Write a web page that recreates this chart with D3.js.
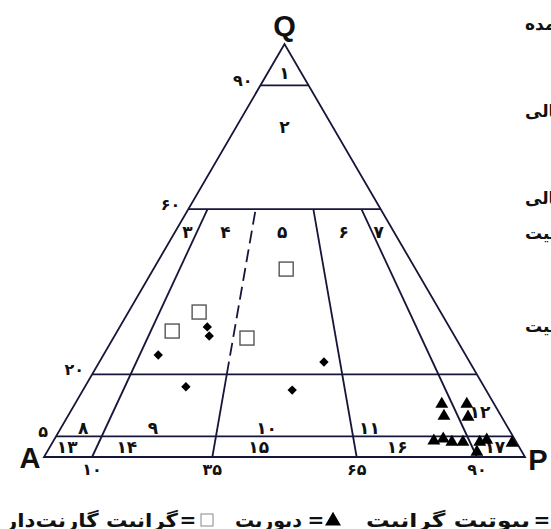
<!DOCTYPE html>
<html>
<head>
<meta charset="utf-8">
<script src="https://cdn.jsdelivr.net/npm/d3@7.9.0/dist/d3.min.js"></script>
<style>
  html, body { margin: 0; padding: 0; background: #fff; }
  svg { display: block; }
  text { font-family: "DejaVu Sans", "Liberation Sans", sans-serif; font-weight: bold; fill: #111; }
</style>
</head>
<body>
<div id="chart"></div>
<script>
// QAP ternary: values in percent [Q, A, P]
const qLevels = [90, 60, 20, 5];
const qTickLabels = ['۹۰', '۶۰', '۲۰', '۵'];
const ratioLevels = [10, 35, 65, 90];          // P/(A+P) %
const ratioTickLabels = ['۱۰', '۳۵', '۶۵', '۹۰'];

// field numbers: [label, Q %, P/(A+P) %]
const fieldLabels = [
  ['۱', 93, 50], ['۲', 80, 50],
  ['۳', 54.5, 5.6], ['۴', 54.5, 23], ['۵', 54.5, 49], ['۶', 54.5, 77], ['۷', 54.5, 93],
  ['۸', 7, 5], ['۹', 7, 20.6], ['۱۰', 7, 46], ['۱۱', 7, 69], ['۱۲', 10.9, 95.6],
  ['۱۳', 2.4, 3.7], ['۱۴', 2.4, 16.4], ['۱۵', 2.4, 44.5], ['۱۶', 2.4, 74], ['۱۷', 2.4, 94.8]
];

// samples [Q, A, P]
const garnetGranite = [[45.5, 26.9, 27.6], [35.1, 50.2, 14.7], [30.5, 58.1, 11.4], [28.8, 43.4, 27.8]];
const biotiteGranite = [[31.5, 50.3, 18.2], [29.3, 51.0, 19.7], [24.7, 63.9, 11.4],
  [23.0, 30.3, 46.7], [17.0, 62.0, 21.0], [16.2, 40.3, 43.5]];
const diorite = [[12.8, 10.9, 76.3], [9.9, 11.9, 78.2], [12.8, 5.7, 81.5], [9.7, 7.0, 83.3],
  [3.9, 17.0, 79.1], [4.4, 14.8, 80.8], [3.6, 13.4, 83.0], [3.6, 11.1, 85.3],
  [3.6, 7.6, 88.8], [4.1, 5.9, 90.0], [3.4, 1.0, 95.6], [1.2, 9.4, 89.4]];

const sideNotes = ['نام محدوده‌های عمده', '۳ = گرانیت فلدسپار آلکالی',
  '۶ = سینیت کوارتزدار فلدسپار آلکالی', '۴ = سینوگرانیت، ۵ = مونزوگرانیت', '۷ = تونالیت'];
const legendNames = ['بیوتیت گرانیت', 'دیوریت', 'گرانیت گارنت‌دار'];

const width = 551, height = 529;
const x = d3.scaleLinear().domain([0, 1]).range([44, 525]);
const y = d3.scaleLinear().domain([0, 1]).range([457, 44]);

// barycentric -> screen
function proj(q, a, p) {
  const s = q + a + p;
  q /= s; p /= s;
  return [x(p + q / 2), y(q)];
}
// Q level + P/(A+P) ratio -> screen
function projR(q, r) {
  q /= 100; r /= 100;
  return proj(q, (1 - q) * (1 - r), (1 - q) * r);
}

const svg = d3.select('#chart').append('svg')
  .attr('width', width).attr('height', height);

const lineColor = '#16163a';
const line = d3.line();

const g = svg.append('g')
  .attr('fill', 'none')
  .attr('stroke', lineColor)
  .attr('stroke-width', 1.8);

// outline
g.append('path').attr('d', line([proj(0, 1, 0), proj(0, 0, 1), proj(1, 0, 0)]) + 'Z');

// horizontal Q levels
qLevels.forEach(q => {
  g.append('path').attr('d', line([projR(q, 0), projR(q, 100)]));
});

// radial ratio lines between Q=0 and Q=60
ratioLevels.forEach(r => {
  if (r === 35) {
    g.append('path').attr('d', line([projR(0, r), projR(20, r)]));
    g.append('path').attr('d', line([projR(20, r), projR(60, r)]))
      .attr('stroke-dasharray', '13,6');
  } else {
    g.append('path').attr('d', line([projR(0, r), projR(60, r)]));
  }
});

// field numbers
svg.append('g').selectAll('text')
  .data(fieldLabels)
  .join('text')
  .attr('x', d => projR(d[1], d[2])[0])
  .attr('y', d => projR(d[1], d[2])[1])
  .attr('text-anchor', 'middle')
  .attr('dominant-baseline', 'central')
  .attr('font-size', 17)
  .text(d => d[0]);

// Q ticks on A-Q edge
svg.append('g').selectAll('text')
  .data(qLevels)
  .join('text')
  .attr('x', (d, i) => projR(d, 0)[0] - 8)
  .attr('y', (d, i) => projR(d, 0)[1] - 5)
  .attr('text-anchor', 'end')
  .attr('dominant-baseline', 'central')
  .attr('font-size', 16)
  .text((d, i) => qTickLabels[i]);

// ratio ticks under base
svg.append('g').selectAll('text')
  .data(ratioLevels)
  .join('text')
  .attr('x', d => projR(0, d)[0])
  .attr('y', d => projR(0, d)[1] + 12)
  .attr('text-anchor', 'middle')
  .attr('dominant-baseline', 'central')
  .attr('font-size', 16)
  .text((d, i) => ratioTickLabels[i]);

// vertex letters
const vtx = [['Q', proj(1, 0, 0), 0, -18], ['A', proj(0, 1, 0), -14, 1], ['P', proj(0, 0, 1), 13, 3]];
svg.append('g').selectAll('text')
  .data(vtx)
  .join('text')
  .attr('x', d => d[1][0] + d[2])
  .attr('y', d => d[1][1] + d[3])
  .attr('text-anchor', 'middle')
  .attr('dominant-baseline', 'central')
  .style('font-family', '"Liberation Sans", Arial, sans-serif')
  .attr('font-size', 29)
  .text(d => d[0]);

// samples
const pts = svg.append('g');
pts.selectAll('.sq')
  .data(garnetGranite)
  .join('rect')
  .attr('x', d => proj(...d)[0] - 7)
  .attr('y', d => proj(...d)[1] - 7)
  .attr('width', 14).attr('height', 14)
  .attr('fill', '#fff').attr('stroke', '#555').attr('stroke-width', 1.4);

pts.selectAll('.dm')
  .data(biotiteGranite)
  .join('path')
  .attr('transform', d => `translate(${proj(...d)})`)
  .attr('d', d3.symbol(d3.symbolDiamond2, 56))
  .attr('fill', '#000');

pts.selectAll('.tr')
  .data(diorite)
  .join('path')
  .attr('transform', d => `translate(${proj(...d)})`)
  .attr('d', d3.symbol(d3.symbolTriangle, 72))
  .attr('fill', '#000');

// right-side notes (cut by the page edge)
const noteY = [24, 111, 198, 233, 326];
svg.append('g').selectAll('text')
  .data(sideNotes)
  .join('text')
  .attr('x', 525)
  .attr('y', (d, i) => noteY[i])
  .attr('direction', 'rtl')
  .attr('text-anchor', 'end')
  .attr('dominant-baseline', 'central')
  .attr('font-size', 17)
  .text(d => d);

// bottom legend, read right to left
const leg = svg.append('g').attr('font-size', 19);
const ly = 520;
function word(txt, left, right) {
  leg.append('text').attr('x', left).attr('y', ly)
    .attr('text-anchor', 'start')
    .attr('dominant-baseline', 'central')
    .attr('textLength', right - left).attr('lengthAdjust', 'spacingAndGlyphs')
    .text(txt);
}
function eq(cx) {
  leg.append('text').attr('x', cx).attr('y', ly).attr('text-anchor', 'middle')
    .attr('dominant-baseline', 'central').attr('font-size', 20).text('=');
}
word(legendNames[2], 5, 178);
eq(188);
leg.append('rect').attr('x', 201).attr('y', ly - 6).attr('width', 12).attr('height', 12)
  .attr('fill', '#fff').attr('stroke', '#888').attr('stroke-width', 1);
leg.append('text').attr('x', 302).attr('y', ly)
  .attr('text-anchor', 'end').attr('dominant-baseline', 'central')
  .text(legendNames[1]);
eq(316);
leg.append('path').attr('transform', `translate(333,${ly + 1})`)
  .attr('d', d3.symbol(d3.symbolTriangle, 110)).attr('fill', '#000');
word(legendNames[0], 366, 530);
eq(542);
leg.append('path').attr('transform', `translate(556,${ly})`)
  .attr('d', d3.symbol(d3.symbolDiamond2, 70)).attr('fill', '#000');
</script>
</body>
</html>
